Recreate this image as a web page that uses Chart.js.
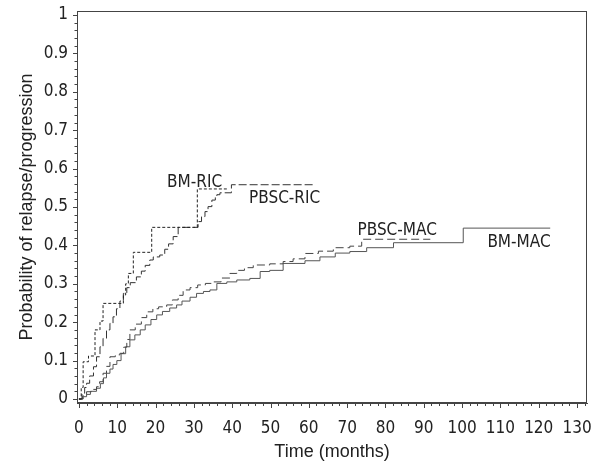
<!DOCTYPE html>
<html>
<head>
<meta charset="utf-8">
<script src="https://cdn.jsdelivr.net/npm/chart.js@4.4.1/dist/chart.umd.min.js"></script>
<style>
html,body{margin:0;padding:0;background:#fff;}
#c{display:block;}
</style>
</head>
<body>
<canvas id="c" width="595" height="465"></canvas>
<script>
// ---- Data ----
const bmRicTime = [0, 0.6, 1.1, 2.5, 4.2, 5.5, 6.3, 11.6, 12.2, 12.9, 14.2, 19.0, 30.9, 38.6];
const bmRicProb = [0, 0.03, 0.097, 0.112, 0.18, 0.203, 0.249, 0.271, 0.30, 0.327, 0.382, 0.447, 0.547, 0.547];

const pbscRicTime = [0, 0.8, 1.5, 2.0, 2.8, 3.8, 4.6, 5.5, 6.3, 7.2, 8.1, 8.9, 9.8, 10.7, 11.6, 12.5, 13.4, 15.0, 16.3, 17.3, 18.5, 19.4, 21.1, 22.4, 23.4, 24.6, 25.9, 31.1, 32.0, 32.9, 33.7, 34.7, 35.6, 36.0, 36.8, 39.8, 61.2];
const pbscRicProb = [0, 0.015, 0.03, 0.041, 0.06, 0.084, 0.11, 0.136, 0.158, 0.18, 0.197, 0.214, 0.235, 0.255, 0.275, 0.29, 0.303, 0.318, 0.333, 0.348, 0.362, 0.37, 0.375, 0.39, 0.404, 0.423, 0.447, 0.462, 0.475, 0.488, 0.501, 0.518, 0.527, 0.532, 0.537, 0.558, 0.558];

const pbscMacTime = [0, 1.0, 2.0, 3.3, 4.6, 5.4, 6.3, 7.2, 8.1, 9.5, 10.7, 11.7, 12.5, 13.3, 14.7, 16.3, 17.7, 19.3, 20.8, 22.9, 24.4, 25.9, 27.2, 29.0, 31.0, 33.0, 35.1, 37.1, 39.4, 41.2, 43.2, 45.5, 49.8, 53.3, 55.9, 59.0, 62.5, 66.4, 70.7, 73.8, 91.7];
const pbscMacProb = [0, 0.008, 0.019, 0.025, 0.032, 0.045, 0.067, 0.085, 0.11, 0.115, 0.119, 0.135, 0.155, 0.18, 0.195, 0.212, 0.227, 0.235, 0.24, 0.245, 0.258, 0.27, 0.284, 0.29, 0.297, 0.301, 0.305, 0.315, 0.327, 0.335, 0.342, 0.349, 0.352, 0.358, 0.365, 0.379, 0.385, 0.394, 0.398, 0.416, 0.416];

const bmMacTime = [0, 1.1, 2.0, 3.0, 4.6, 5.6, 6.4, 7.2, 8.1, 8.9, 9.9, 11.0, 12.2, 13.3, 14.6, 16.0, 17.3, 18.8, 20.3, 21.8, 23.7, 25.5, 26.9, 29.0, 30.7, 32.5, 34.2, 36.0, 38.6, 41.2, 44.6, 47.3, 49.8, 53.3, 59.0, 62.9, 66.9, 70.7, 75.1, 82.1, 100.3, 123.0];
const bmMacProb = [0, 0.006, 0.012, 0.02, 0.028, 0.04, 0.055, 0.067, 0.078, 0.09, 0.10, 0.118, 0.136, 0.154, 0.167, 0.18, 0.193, 0.207, 0.219, 0.228, 0.237, 0.245, 0.255, 0.265, 0.275, 0.28, 0.284, 0.301, 0.305, 0.31, 0.314, 0.332, 0.335, 0.353, 0.36, 0.37, 0.38, 0.384, 0.394, 0.407, 0.445, 0.445];

const xTickValues = [0, 10, 20, 30, 40, 50, 60, 70, 80, 90, 100, 110, 120, 130];
const yTickValues = [0, 0.1, 0.2, 0.3, 0.4, 0.5, 0.6, 0.7, 0.8, 0.9, 1];

const curveLabels = ['BM-RIC', 'PBSC-RIC', 'PBSC-MAC', 'BM-MAC'];
const curveLabelX = [23.0, 44.4, 72.7, 106.6];
const curveLabelY = [0.552, 0.511, 0.427, 0.397];

const xTitle = 'Time (months)';
const yTitle = 'Probability of relapse/progression';

// ---- helpers ----
function pts(t, p) { return t.map((v, i) => ({x: v, y: p[i]})); }
const NARROW = '"Liberation Sans Narrow", "DejaVu Sans Condensed", sans-serif';
const REG = '"Liberation Sans", Arial, sans-serif';

const framePlugin = {
  id: 'frame',
  afterDraw(chart) {
    const ctx = chart.ctx;
    const a = chart.chartArea;
    const xs = chart.scales.x, ys = chart.scales.y;
    ctx.save();
    ctx.strokeStyle = '#444';
    ctx.lineWidth = 1;
    ctx.strokeRect(Math.round(a.left) + 0.5, Math.round(a.top) + 0.5, Math.round(a.right - a.left) - 1, Math.round(a.bottom - a.top) - 1);
    // y ticks
    ctx.beginPath();
    for (let k = 0; k <= 50; k++) {
      const v = k * 0.02;
      const yp = Math.round(ys.getPixelForValue(v)) + 0.5;
      const len = (k % 5 === 0) ? 4 : 2.5;
      ctx.moveTo(a.left, yp);
      ctx.lineTo(a.left - len, yp);
    }
    // x ticks
    for (let k = 0; k <= 66; k++) {
      const v = k * 2;
      const xp = Math.round(xs.getPixelForValue(v)) + 0.5;
      const len = (k % 5 === 0) ? 5 : 3;
      ctx.moveTo(xp, a.bottom);
      ctx.lineTo(xp, a.bottom + len);
    }
    ctx.stroke();
    // curve labels
    ctx.fillStyle = '#222';
    ctx.font = '17px ' + NARROW;
    ctx.textAlign = 'left';
    ctx.textBaseline = 'alphabetic';
    curveLabels.forEach((s, i) => {
      ctx.fillText(s, xs.getPixelForValue(curveLabelX[i]), ys.getPixelForValue(curveLabelY[i]));
    });
    ctx.restore();
  }
};

new Chart(document.getElementById('c'), {
  type: 'line',
  data: {
    datasets: [
      {label: 'BM-RIC', data: pts(bmRicTime, bmRicProb), stepped: true, borderColor: '#222', borderWidth: 1, borderDash: [3, 2], pointRadius: 0, fill: false},
      {label: 'PBSC-RIC', data: pts(pbscRicTime, pbscRicProb), stepped: true, borderColor: '#333', borderWidth: 1, borderDash: [8, 3], pointRadius: 0, fill: false},
      {label: 'PBSC-MAC', data: pts(pbscMacTime, pbscMacProb), stepped: true, borderColor: '#444', borderWidth: 1, borderDash: [8, 4], pointRadius: 0, fill: false},
      {label: 'BM-MAC', data: pts(bmMacTime, bmMacProb), stepped: true, borderColor: '#555', borderWidth: 1, pointRadius: 0, fill: false}
    ]
  },
  options: {
    responsive: false,
    animation: false,
    devicePixelRatio: 1,
    layout: {autoPadding: false, padding: {top: 11, right: 8, left: 0, bottom: 0}},
    plugins: {legend: {display: false}, tooltip: {enabled: false}},
    scales: {
      x: {
        type: 'linear',
        min: -0.5, max: 132.6,
        afterBuildTicks(s) { s.ticks = xTickValues.map(v => ({value: v})); },
        afterFit(s) { s.height = 62; s.paddingLeft = 0; s.paddingRight = 0; },
        grid: {display: false, drawTicks: false},
        border: {display: true, color: '#444'},
        ticks: {color: '#222', padding: 15, font: {family: NARROW, size: 17}, maxRotation: 0, autoSkip: false,
                callback: v => String(v)},
        title: {display: true, text: xTitle, color: '#222', font: {family: REG, size: 18}, padding: {top: 0, bottom: 2}}
      },
      y: {
        type: 'linear',
        min: -0.0104, max: 1.0104,
        afterBuildTicks(s) { s.ticks = yTickValues.map(v => ({value: v})); },
        afterFit(s) { s.width = 77; s.paddingTop = 0; s.paddingBottom = 0; },
        grid: {display: false, drawTicks: false},
        border: {display: true, color: '#444'},
        ticks: {color: '#222', padding: 9, font: {family: NARROW, size: 17}, autoSkip: false,
                callback: v => String(Number(v.toFixed(1)))},
        title: {display: true, text: yTitle, color: '#222', font: {family: REG, size: 18}, padding: {top: 16, bottom: 0}}
      }
    }
  },
  plugins: [framePlugin]
});
</script>
</body>
</html>
